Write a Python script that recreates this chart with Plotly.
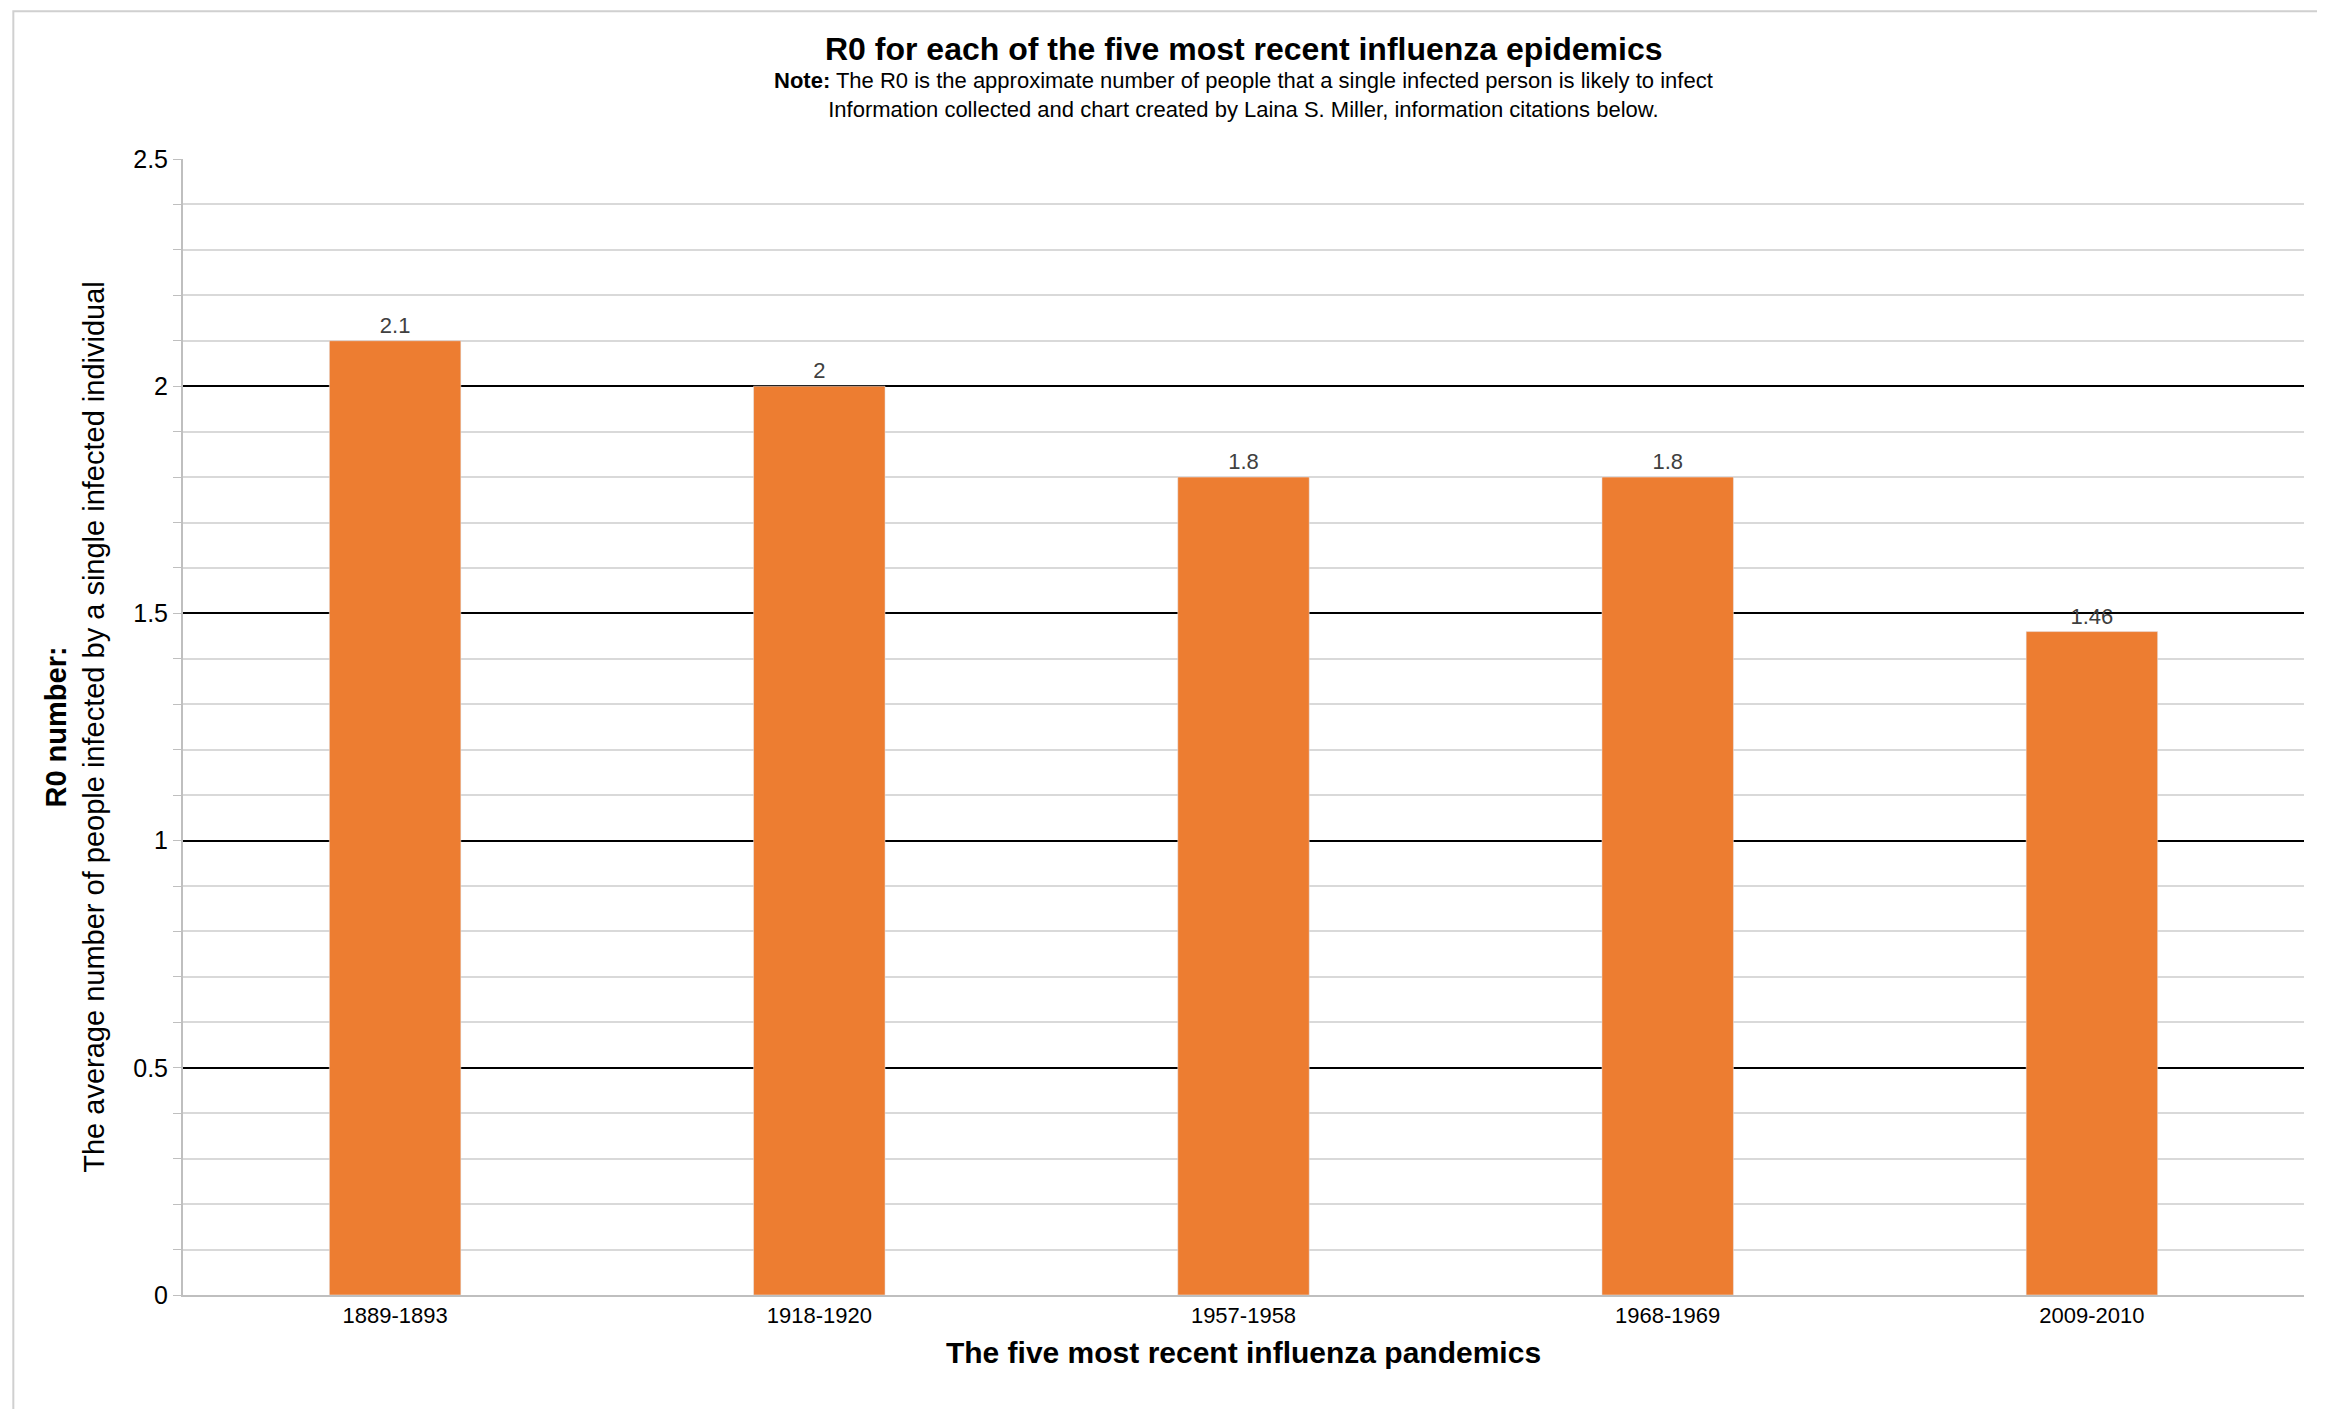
import plotly.graph_objects as go

categories = ["1889-1893", "1918-1920", "1957-1958", "1968-1969", "2009-2010"]
r0_values = [2.1, 2, 1.8, 1.8, 1.46]
value_labels = ["2.1", "2", "1.8", "1.8", "1.46"]

fig = go.Figure(go.Bar(
    x=categories, y=r0_values, width=0.31, marker_color="#ED7D31",
    text=value_labels, textposition="outside", cliponaxis=False,
    textfont=dict(size=22, color="#404040", family="Liberation Sans"),
))

fig.update_layout(
    width=2325, height=1409, plot_bgcolor="white", paper_bgcolor="white",
    font=dict(family="Liberation Sans", color="black"),
    margin=dict(l=175, r=29, t=151, b=122),
    showlegend=False,
    shapes=[dict(type="rect", xref="paper", yref="paper", x0=-0.08, x1=1.0125, y0=-0.104, y1=1.13,
                 line=dict(color="#d0d0d0", width=2))],
    annotations=[
        dict(text="<b>R0 for each of the five most recent influenza epidemics</b>", xref="paper", yref="paper",
             x=0.5, y=1.097, yanchor="middle", showarrow=False, font=dict(size=32)),
        dict(text="<b>Note:</b> The R0 is the approximate number of people that a single infected person is likely to infect<br>Information collected and chart created by Laina S. Miller, information citations below.",
             xref="paper", yref="paper", x=0.5, y=1.056, yanchor="middle", showarrow=False, font=dict(size=22)),
    ],
)
fig.update_xaxes(showline=True, linecolor="#bfbfbf", linewidth=2, tickfont=dict(size=22),
                 title=dict(text="<b>The five most recent influenza pandemics</b>", font=dict(size=30), standoff=15))
fig.update_yaxes(range=[0, 2.5], dtick=0.5, showgrid=True, gridcolor="black", gridwidth=2,
                 showline=True, linecolor="#bfbfbf", linewidth=2, tickfont=dict(size=25),
                 ticks="outside", ticklen=8, tickcolor="#bfbfbf", zeroline=False,
                 minor=dict(dtick=0.1, showgrid=True, gridcolor="#d9d9d9", gridwidth=1.5,
                            ticks="outside", ticklen=8, tickcolor="#bfbfbf"),
                 title=dict(text="<b>R0 number:</b><br>The average number of people infected by a single infected individual",
                            font=dict(size=29), standoff=20))

fig.write_html("out.html")
